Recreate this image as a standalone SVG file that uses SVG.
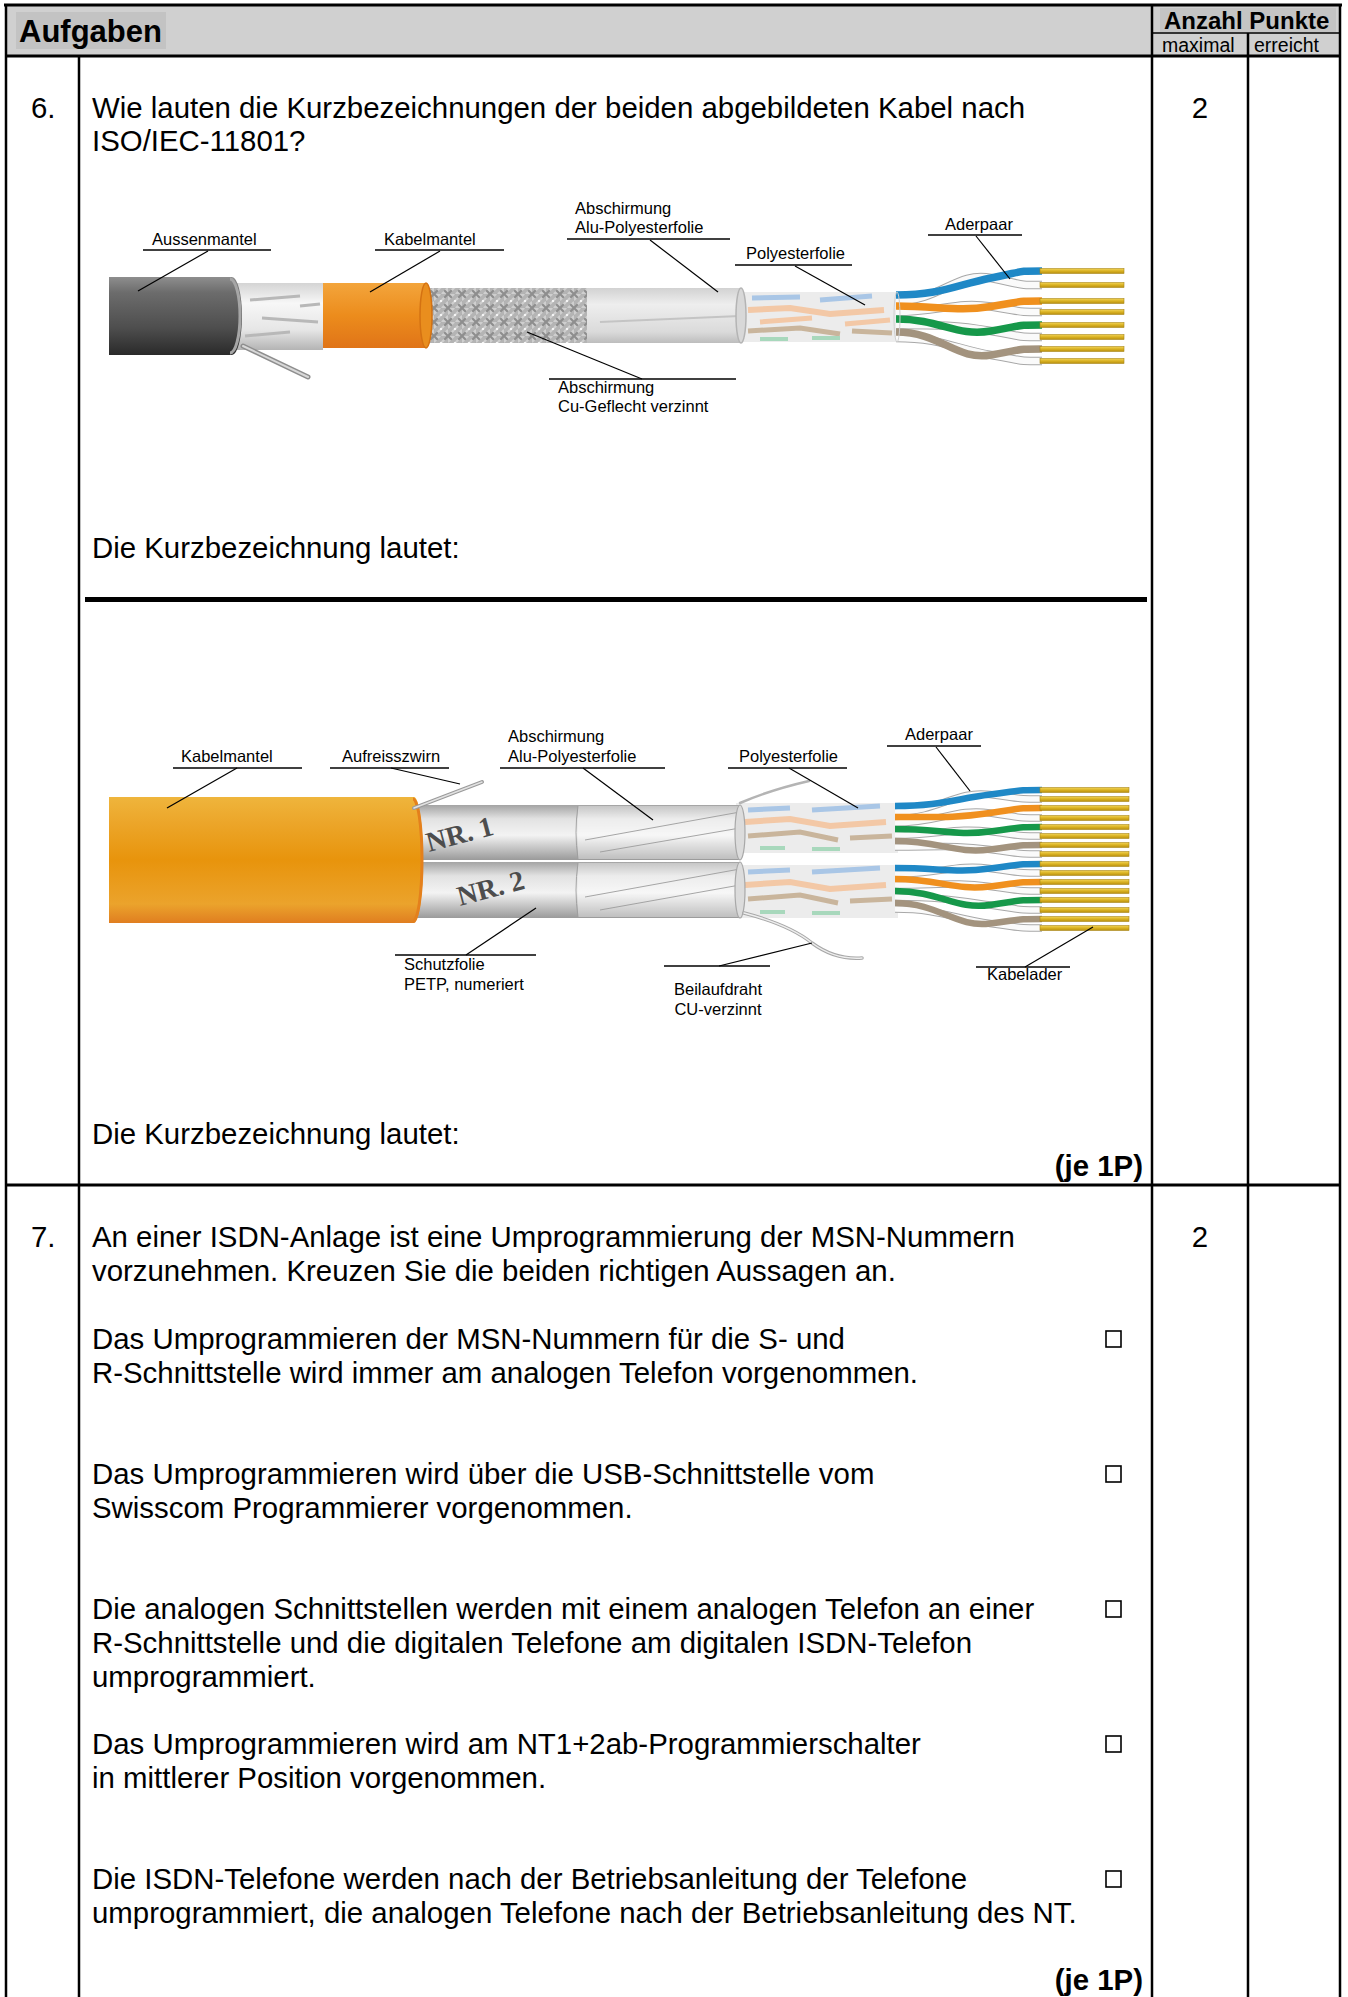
<svg xmlns="http://www.w3.org/2000/svg" width="1348" height="1997" viewBox="0 0 1348 1997">
<defs>
<style>
.t{font-family:"Liberation Sans",Arial,sans-serif;font-size:29.4px;fill:#000}
.b{font-weight:bold}
.l{font-family:"Liberation Sans",Arial,sans-serif;font-size:16.5px;fill:#000}
.ul{stroke:#000;stroke-width:1.4;fill:none}
.ld{stroke:#000;stroke-width:1.2;fill:none}
.frame{stroke:#000;fill:none}
.cb{fill:none;stroke:#000;stroke-width:1.6}
.gold{fill:url(#gold);stroke:#a88618;stroke-width:0.6}
.wo{fill:none;stroke:#a8a8a8;stroke-linecap:butt}
.wi{fill:none;stroke:#fafafa;stroke-linecap:butt}
.nr{font-family:"Liberation Serif","Times New Roman",serif;font-size:28px;font-weight:bold;fill:#4d4d4d}
</style>
<linearGradient id="dark" x1="0" y1="0" x2="0" y2="1">
<stop offset="0" stop-color="#8e8e8e"/><stop offset="0.2" stop-color="#6c6c6c"/><stop offset="0.65" stop-color="#4e4e4e"/><stop offset="1" stop-color="#2a2a2a"/>
</linearGradient>
<linearGradient id="silver" x1="0" y1="0" x2="0" y2="1">
<stop offset="0" stop-color="#d4d4d4"/><stop offset="0.3" stop-color="#f7f7f7"/><stop offset="0.7" stop-color="#e6e6e6"/><stop offset="1" stop-color="#b4b4b4"/>
</linearGradient>
<linearGradient id="or1" x1="0" y1="0" x2="0" y2="1">
<stop offset="0" stop-color="#f3a53c"/><stop offset="0.5" stop-color="#ec8c1c"/><stop offset="1" stop-color="#e07418"/>
</linearGradient>
<linearGradient id="foil" x1="0" y1="0" x2="0" y2="1">
<stop offset="0" stop-color="#d2d2d2"/><stop offset="0.3" stop-color="#eeeeee"/><stop offset="0.8" stop-color="#dadada"/><stop offset="1" stop-color="#bdbdbd"/>
</linearGradient>
<linearGradient id="orJ" x1="0" y1="0" x2="0" y2="1">
<stop offset="0" stop-color="#efb53c"/><stop offset="0.2" stop-color="#eca62a"/><stop offset="0.5" stop-color="#e8940c"/><stop offset="0.85" stop-color="#eba32c"/><stop offset="1" stop-color="#e07e20"/>
</linearGradient>
<linearGradient id="sub" x1="0" y1="0" x2="0" y2="1">
<stop offset="0" stop-color="#a4a4a4"/><stop offset="0.25" stop-color="#e2e2e2"/><stop offset="0.55" stop-color="#f3f3f3"/><stop offset="1" stop-color="#9a9a9a"/>
</linearGradient>
<linearGradient id="gold" x1="0" y1="0" x2="0" y2="1">
<stop offset="0" stop-color="#f2d458"/><stop offset="0.5" stop-color="#dab222"/><stop offset="1" stop-color="#b88f10"/>
</linearGradient>
<pattern id="braid" width="14" height="14" patternUnits="userSpaceOnUse">
<rect width="14" height="14" fill="#8e8e8e"/>
<path d="M-2,2 L12,16 M2,-2 L16,12" stroke="#cfcfcf" stroke-width="3.5"/>
<path d="M-2,12 L12,-2 M2,16 L16,2" stroke="#b4b4b4" stroke-width="3.5"/>
<circle cx="7" cy="7" r="1.3" fill="#f4f4f4"/>
</pattern>
</defs>

<rect x="0" y="0" width="1348" height="1997" fill="#fff"/>

<g id="table">
<rect x="6" y="5" width="1334" height="51" fill="#d0d0d0"/>
<rect x="16" y="12" width="150" height="37" fill="#c3c3c3"/>
<rect x="1160" y="8" width="176" height="24" fill="#c4c4c4"/>
<line class="frame" x1="4" y1="5" x2="1342" y2="5" stroke-width="3"/>
<line class="frame" x1="6" y1="4" x2="6" y2="1997" stroke-width="2.5"/>
<line class="frame" x1="1340" y1="4" x2="1340" y2="1997" stroke-width="2.5"/>
<line class="frame" x1="6" y1="56" x2="1340" y2="56" stroke-width="3"/>
<line class="frame" x1="1152" y1="33" x2="1340" y2="33" stroke-width="1.5"/>
<line class="frame" x1="1152" y1="5" x2="1152" y2="1997" stroke-width="2.5"/>
<line class="frame" x1="1248" y1="33" x2="1248" y2="1997" stroke-width="2.5"/>
<line class="frame" x1="79" y1="56" x2="79" y2="1997" stroke-width="2.5"/>
<line class="frame" x1="6" y1="1185" x2="1340" y2="1185" stroke-width="3"/>
<line class="frame" x1="85" y1="599.5" x2="1147" y2="599.5" stroke-width="5"/>
<text class="t b" x="19" y="42" style="font-size:31px">Aufgaben</text>
<text class="t b" x="1164" y="29" style="font-size:24px">Anzahl Punkte</text>
<text class="t" x="1162" y="52" style="font-size:19.5px">maximal</text>
<text class="t" x="1254" y="52" style="font-size:19.5px">erreicht</text>
</g>

<g id="q6">
<text class="t" x="31" y="118">6.</text>
<text class="t" x="92" y="118">Wie lauten die Kurzbezeichnungen der beiden abgebildeten Kabel nach</text>
<text class="t" x="92" y="151">ISO/IEC-11801?</text>
<text class="t" x="1200" y="118" text-anchor="middle">2</text>
<text class="t" x="92" y="558">Die Kurzbezeichnung lautet:</text>
<text class="t" x="92" y="1144">Die Kurzbezeichnung lautet:</text>
<text class="t b" x="1143" y="1176" text-anchor="end">(je 1P)</text>
</g>

<g id="cable1">
<rect x="740" y="292" width="158" height="50" fill="#ececec"/>
<g stroke-width="5" fill="none">
<path d="M752,298 L800,297" stroke="#a9c6e6"/>
<path d="M820,300 L872,296" stroke="#a9c6e6"/>
<path d="M748,310 L790,308 L830,314 L884,310" stroke="#f3c8a6" stroke-width="6"/>
<path d="M760,322 L812,318" stroke="#f3c8a6"/>
<path d="M845,324 L890,320" stroke="#f3c8a6"/>
<path d="M748,331 L800,328 L840,334" stroke="#c9b59c"/>
<path d="M852,331 L892,333" stroke="#c9b59c"/>
<path d="M760,339 L788,339 M812,338 L840,338" stroke="#a8d8bc" stroke-width="4"/>
</g>
<rect x="585" y="288" width="156" height="55" fill="url(#foil)"/>
<path d="M600,322 L740,316" stroke="#c4c4c4" stroke-width="2" fill="none"/>
<ellipse cx="741" cy="315.5" rx="5" ry="27.5" fill="#d8d8d8" stroke="#b4b4b4" stroke-width="1.5"/>
<rect x="415" y="288" width="172" height="55" fill="url(#braid)"/>
<rect x="321" y="283" width="105" height="65" fill="url(#or1)"/>
<ellipse cx="426" cy="315.5" rx="6" ry="32.5" fill="#e98e1e" stroke="#d47212" stroke-width="1.5"/>
<rect x="228" y="283" width="95" height="67" fill="url(#silver)"/>
<g stroke="#b8b8b8" stroke-width="3" fill="none">
<path d="M250,300 L300,296"/><path d="M262,318 L318,322"/><path d="M245,336 L290,332"/><path d="M300,306 L320,304"/>
</g>
<path d="M243,346 L308,377" stroke="#8e8e8e" stroke-width="5" stroke-linecap="round"/>
<path d="M243,346 L308,377" stroke="#d8d8d8" stroke-width="2" stroke-linecap="round"/>
<path d="M109,277 H232 A10,39 0 0 1 232,355 H109 Z" fill="url(#dark)"/>
<path d="M230,279 A10,37 0 0 1 230,353" stroke="#a6a6a6" stroke-width="3" fill="none"/>
<g stroke-width="7.5">
<path class="wo" stroke-width="8.5" d="M896,301 C941,301 956,271 991,278 S1015,285 1042,285"/>
<path class="wi" stroke-width="6.5" d="M896,301 C941,301 956,271 991,278 S1015,285 1042,285"/>
<path d="M896,295 C941,295 956,285 991,278 S1015,271 1042,271" stroke="#1f88c6" fill="none"/>
<path class="wo" stroke-width="8.5" d="M896,312 C941,312 956,301 991,306.5 S1015,312 1042,312"/>
<path class="wi" stroke-width="6.5" d="M896,312 C941,312 956,301 991,306.5 S1015,312 1042,312"/>
<path d="M896,306 C941,306 956,312 991,306.5 S1015,301 1042,301" stroke="#f0901e" fill="none"/>
<path class="wo" stroke-width="8.5" d="M896,325 C941,325 956,325 991,331 S1015,337 1042,337"/>
<path class="wi" stroke-width="6.5" d="M896,325 C941,325 956,325 991,331 S1015,337 1042,337"/>
<path d="M896,319 C941,319 956,337 991,331 S1015,325 1042,325" stroke="#16984a" fill="none"/>
<path class="wo" stroke-width="8.5" d="M896,338 C941,338 956,349 991,355 S1015,361 1042,361"/>
<path class="wi" stroke-width="6.5" d="M896,338 C941,338 956,349 991,355 S1015,361 1042,361"/>
<path d="M896,332 C941,332 956,361 991,355 S1015,349 1042,349" stroke="#a3937e" fill="none"/>
</g>
<ellipse cx="897" cy="317" rx="3" ry="25" fill="none" stroke="#cfcfcf" stroke-width="1"/>
<g>
<rect class="gold" x="1040" y="268.5" width="84" height="5"/>
<rect class="gold" x="1040" y="282.5" width="84" height="5"/>
<rect class="gold" x="1040" y="298.5" width="84" height="5"/>
<rect class="gold" x="1040" y="309.5" width="84" height="5"/>
<rect class="gold" x="1040" y="322.5" width="84" height="5"/>
<rect class="gold" x="1040" y="334.5" width="84" height="5"/>
<rect class="gold" x="1040" y="346.5" width="84" height="5"/>
<rect class="gold" x="1040" y="358.5" width="84" height="5"/>
</g>
<g class="l">
<text x="152" y="245">Aussenmantel</text>
<text x="384" y="245">Kabelmantel</text>
<text x="575" y="214">Abschirmung</text>
<text x="575" y="233">Alu-Polyesterfolie</text>
<text x="746" y="259">Polyesterfolie</text>
<text x="945" y="230">Aderpaar</text>
<text x="558" y="393">Abschirmung</text>
<text x="558" y="412">Cu-Geflecht verzinnt</text>
</g>
<g class="ul">
<line x1="143" y1="250" x2="271" y2="250"/>
<line x1="375" y1="250" x2="504" y2="250"/>
<line x1="567" y1="239" x2="730" y2="239"/>
<line x1="735" y1="265" x2="852" y2="265"/>
<line x1="928" y1="235" x2="1022" y2="235"/>
<line x1="549" y1="379" x2="736" y2="379"/>
</g>
</g>

<g id="cable2">
<rect x="736" y="803" width="162" height="50" fill="#ececec"/>
<rect x="736" y="865" width="162" height="53" fill="#ececec"/>
<g stroke-width="5" fill="none">
<path d="M748,810 L790,808 M812,810 L880,806" stroke="#a9c6e6"/>
<path d="M745,822 L790,819 L830,826 L886,822" stroke="#f3c8a6" stroke-width="6"/>
<path d="M748,836 L800,832 L838,840 M850,838 L892,836" stroke="#c9b59c"/>
<path d="M760,848 L785,848 M812,849 L840,849" stroke="#a8d8bc" stroke-width="4"/>
<path d="M748,872 L790,870 M812,872 L880,868" stroke="#a9c6e6"/>
<path d="M745,885 L790,882 L830,889 L886,885" stroke="#f3c8a6" stroke-width="6"/>
<path d="M748,899 L800,895 L838,903 M850,901 L892,899" stroke="#c9b59c"/>
<path d="M760,912 L785,912 M812,913 L840,913" stroke="#a8d8bc" stroke-width="4"/>
</g>
<rect x="415" y="805" width="325" height="55" fill="url(#sub)"/>
<rect x="415" y="862" width="325" height="56" fill="url(#sub)"/>
<rect x="578" y="806" width="162" height="53" fill="#fff" opacity="0.35"/>
<rect x="578" y="863" width="162" height="54" fill="#fff" opacity="0.35"/>
<g stroke="#9c9c9c" stroke-width="0.9" fill="none">
<path d="M578,806 Q574,832 578,859"/><path d="M578,863 Q574,890 578,917"/>
<path d="M585,840 L740,812"/><path d="M600,852 L740,828"/><path d="M585,897 L740,869"/><path d="M600,910 L740,885"/>
</g>
<ellipse cx="740" cy="832.5" rx="5" ry="27.5" fill="#dcdcdc" stroke="#a8a8a8" stroke-width="1.2"/>
<ellipse cx="740" cy="890" rx="5" ry="28" fill="#dcdcdc" stroke="#a8a8a8" stroke-width="1.2"/>
<text class="nr" x="429" y="852" transform="rotate(-15 429 852)">NR. 1</text>
<text class="nr" x="460" y="906" transform="rotate(-15 460 906)">NR. 2</text>
<path d="M109,797 H414 A9,63 0 0 1 414,923 H109 Z" fill="url(#orJ)"/>
<path d="M413,799 A9,61 0 0 1 413,921" stroke="#e4801c" stroke-width="3" fill="none"/>
<path d="M414,808 L482,782" stroke="#9a9a9a" stroke-width="4" stroke-linecap="round"/>
<path d="M414,808 L482,782" stroke="#e2e2e2" stroke-width="1.6" stroke-linecap="round"/>
<path d="M740,803 Q770,790 809,781" stroke="#b4b4b4" stroke-width="2.5" fill="none" stroke-linecap="round"/>
<path d="M744,913 Q790,925 812,943 Q835,960 862,958" stroke="#a8a8a8" stroke-width="3.5" fill="none" stroke-linecap="round"/>
<path d="M744,913 Q790,925 812,943 Q835,960 862,958" stroke="#eeeeee" stroke-width="1.5" fill="none" stroke-linecap="round"/>
<g stroke-width="6.5">
<path class="wo" stroke-width="7.5" d="M895,812 C940,812 955,790 990,794.5 S1015,799 1042,799"/>
<path class="wi" stroke-width="5.5" d="M895,812 C940,812 955,790 990,794.5 S1015,799 1042,799"/>
<path d="M895,806 C940,806 955,799 990,794.5 S1015,790 1042,790" stroke="#1f88c6" fill="none"/>
<path class="wo" stroke-width="7.5" d="M895,823 C940,823 955,808 990,813 S1015,818 1042,818"/>
<path class="wi" stroke-width="5.5" d="M895,823 C940,823 955,808 990,813 S1015,818 1042,818"/>
<path d="M895,817 C940,817 955,818 990,813 S1015,808 1042,808" stroke="#f0901e" fill="none"/>
<path class="wo" stroke-width="7.5" d="M895,835 C940,835 955,827 990,831.5 S1015,836 1042,836"/>
<path class="wi" stroke-width="5.5" d="M895,835 C940,835 955,827 990,831.5 S1015,836 1042,836"/>
<path d="M895,829 C940,829 955,836 990,831.5 S1015,827 1042,827" stroke="#16984a" fill="none"/>
<path class="wo" stroke-width="7.5" d="M895,847 C940,847 955,845 990,849.5 S1015,854 1042,854"/>
<path class="wi" stroke-width="5.5" d="M895,847 C940,847 955,845 990,849.5 S1015,854 1042,854"/>
<path d="M895,841 C940,841 955,854 990,849.5 S1015,845 1042,845" stroke="#a3937e" fill="none"/>
<path class="wo" stroke-width="7.5" d="M895,874 C940,874 955,864 990,868.5 S1015,873 1042,873"/>
<path class="wi" stroke-width="5.5" d="M895,874 C940,874 955,864 990,868.5 S1015,873 1042,873"/>
<path d="M895,868 C940,868 955,873 990,868.5 S1015,864 1042,864" stroke="#1f88c6" fill="none"/>
<path class="wo" stroke-width="7.5" d="M895,885 C940,885 955,882 990,886.5 S1015,891 1042,891"/>
<path class="wi" stroke-width="5.5" d="M895,885 C940,885 955,882 990,886.5 S1015,891 1042,891"/>
<path d="M895,879 C940,879 955,891 990,886.5 S1015,882 1042,882" stroke="#f0901e" fill="none"/>
<path class="wo" stroke-width="7.5" d="M895,897 C940,897 955,900 990,905 S1015,910 1042,910"/>
<path class="wi" stroke-width="5.5" d="M895,897 C940,897 955,900 990,905 S1015,910 1042,910"/>
<path d="M895,891 C940,891 955,910 990,905 S1015,900 1042,900" stroke="#16984a" fill="none"/>
<path class="wo" stroke-width="7.5" d="M895,909 C940,909 955,919 990,923.5 S1015,928 1042,928"/>
<path class="wi" stroke-width="5.5" d="M895,909 C940,909 955,919 990,923.5 S1015,928 1042,928"/>
<path d="M895,903 C940,903 955,928 990,923.5 S1015,919 1042,919" stroke="#a3937e" fill="none"/>
</g>
<g>
<rect class="gold" x="1040" y="787.5" width="89" height="5"/>
<rect class="gold" x="1040" y="796.5" width="89" height="5"/>
<rect class="gold" x="1040" y="805.5" width="89" height="5"/>
<rect class="gold" x="1040" y="815.5" width="89" height="5"/>
<rect class="gold" x="1040" y="824.5" width="89" height="5"/>
<rect class="gold" x="1040" y="833.5" width="89" height="5"/>
<rect class="gold" x="1040" y="842.5" width="89" height="5"/>
<rect class="gold" x="1040" y="851.5" width="89" height="5"/>
<rect class="gold" x="1040" y="861.5" width="89" height="5"/>
<rect class="gold" x="1040" y="870.5" width="89" height="5"/>
<rect class="gold" x="1040" y="879.5" width="89" height="5"/>
<rect class="gold" x="1040" y="888.5" width="89" height="5"/>
<rect class="gold" x="1040" y="897.5" width="89" height="5"/>
<rect class="gold" x="1040" y="907.5" width="89" height="5"/>
<rect class="gold" x="1040" y="916.5" width="89" height="5"/>
<rect class="gold" x="1040" y="925.5" width="89" height="5"/>
</g>
<g class="l">
<text x="181" y="762">Kabelmantel</text>
<text x="342" y="762">Aufreisszwirn</text>
<text x="508" y="742">Abschirmung</text>
<text x="508" y="762">Alu-Polyesterfolie</text>
<text x="739" y="762">Polyesterfolie</text>
<text x="905" y="740">Aderpaar</text>
<text x="404" y="970">Schutzfolie</text>
<text x="404" y="990">PETP, numeriert</text>
<text x="718" y="995" text-anchor="middle">Beilaufdraht</text>
<text x="718" y="1015" text-anchor="middle">CU-verzinnt</text>
<text x="987" y="980">Kabelader</text>
</g>
<g class="ul">
<line x1="173" y1="768" x2="302" y2="768"/>
<line x1="330" y1="768" x2="449" y2="768"/>
<line x1="500" y1="768" x2="665" y2="768"/>
<line x1="728" y1="768" x2="847" y2="768"/>
<line x1="887" y1="746" x2="981" y2="746"/>
<line x1="395" y1="955" x2="536" y2="955"/>
<line x1="664" y1="966" x2="770" y2="966"/>
<line x1="976" y1="967" x2="1070" y2="967"/>
</g>
</g>

<g id="connectors" class="ld">
<line x1="208" y1="251" x2="138" y2="291"/>
<line x1="440" y1="251" x2="370" y2="292"/>
<line x1="650" y1="240" x2="718" y2="292"/>
<line x1="795" y1="266" x2="865" y2="305"/>
<line x1="976" y1="236" x2="1010" y2="279"/>
<line x1="642" y1="379" x2="527" y2="332"/>
<line x1="237" y1="768" x2="167" y2="808"/>
<line x1="391" y1="768" x2="460" y2="784"/>
<line x1="583" y1="768" x2="653" y2="820"/>
<line x1="789" y1="768" x2="858" y2="808"/>
<line x1="936" y1="747" x2="970" y2="791"/>
<line x1="466" y1="955" x2="536" y2="908"/>
<line x1="719" y1="966" x2="812" y2="943"/>
<line x1="1025" y1="967" x2="1093" y2="927"/>
</g>

<g id="q7">
<text class="t" x="31" y="1247">7.</text>
<text class="t" x="1200" y="1247" text-anchor="middle">2</text>
<text class="t" x="92" y="1247">An einer ISDN-Anlage ist eine Umprogrammierung der MSN-Nummern</text>
<text class="t" x="92" y="1281">vorzunehmen. Kreuzen Sie die beiden richtigen Aussagen an.</text>
<text class="t" x="92" y="1349">Das Umprogrammieren der MSN-Nummern für die S- und</text>
<text class="t" x="92" y="1383">R-Schnittstelle wird immer am analogen Telefon vorgenommen.</text>
<text class="t" x="92" y="1484">Das Umprogrammieren wird über die USB-Schnittstelle vom</text>
<text class="t" x="92" y="1518">Swisscom Programmierer vorgenommen.</text>
<text class="t" x="92" y="1619">Die analogen Schnittstellen werden mit einem analogen Telefon an einer</text>
<text class="t" x="92" y="1653">R-Schnittstelle und die digitalen Telefone am digitalen ISDN-Telefon</text>
<text class="t" x="92" y="1687">umprogrammiert.</text>
<text class="t" x="92" y="1754">Das Umprogrammieren wird am NT1+2ab-Programmierschalter</text>
<text class="t" x="92" y="1788">in mittlerer Position vorgenommen.</text>
<text class="t" x="92" y="1889">Die ISDN-Telefone werden nach der Betriebsanleitung der Telefone</text>
<text class="t" x="92" y="1923">umprogrammiert, die analogen Telefone nach der Betriebsanleitung des NT.</text>
<text class="t b" x="1143" y="1990" text-anchor="end">(je 1P)</text>
<rect class="cb" x="1106" y="1331" width="15" height="16"/>
<rect class="cb" x="1106" y="1466" width="15" height="16"/>
<rect class="cb" x="1106" y="1601" width="15" height="16"/>
<rect class="cb" x="1106" y="1736" width="15" height="16"/>
<rect class="cb" x="1106" y="1871" width="15" height="16"/>
</g>
</svg>
